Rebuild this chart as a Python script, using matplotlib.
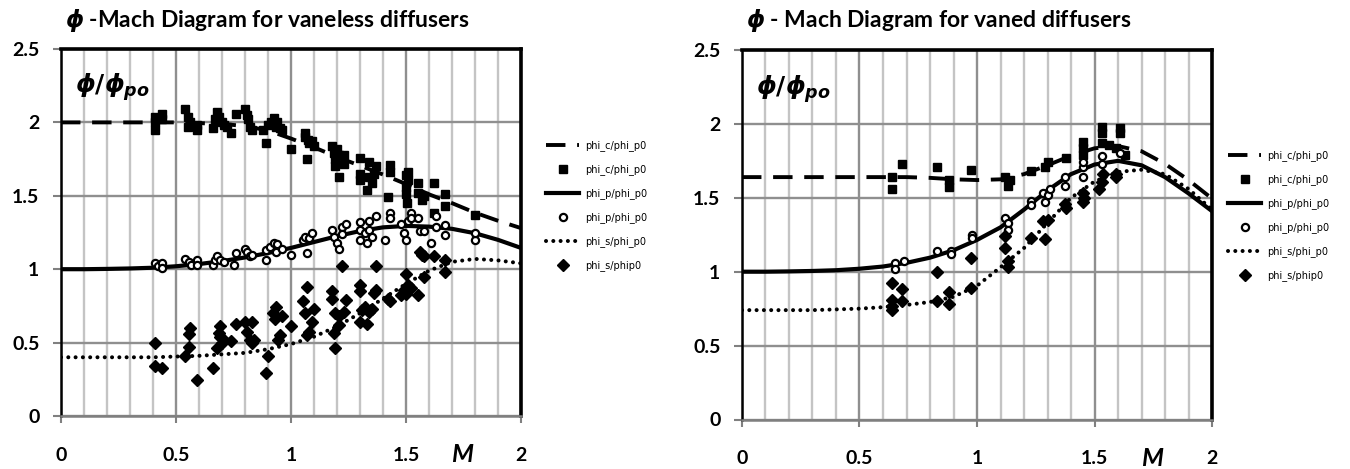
import matplotlib.pyplot as plt
import numpy as np

plt.rcParams['font.family'] = ['Lato', 'DejaVu Sans']
plt.rcParams['mathtext.fontset'] = 'custom'
plt.rcParams['mathtext.it'] = 'DejaVu Sans:italic:bold'
plt.rcParams['mathtext.rm'] = 'DejaVu Sans:bold'
plt.rcParams['mathtext.bf'] = 'DejaVu Sans:bold'

# model curves, sampled every 0.1 in Mach number
mach = [0.0, 0.1, 0.2, 0.3, 0.4, 0.5, 0.6, 0.7, 0.8, 0.9, 1.0,
        1.1, 1.2, 1.3, 1.4, 1.5, 1.6, 1.7, 1.8, 1.9, 2.0]

vl_phi_c = [2.0, 2.0, 2.0, 2.0, 2.0, 2.0, 1.995, 1.99, 1.975, 1.945, 1.89,
            1.83, 1.765, 1.705, 1.645, 1.58, 1.51, 1.45, 1.385, 1.33, 1.28]
vl_phi_p = [1.0, 1.0, 1.002, 1.005, 1.01, 1.02, 1.035, 1.055, 1.08, 1.11, 1.145,
            1.185, 1.225, 1.26, 1.285, 1.295, 1.29, 1.275, 1.245, 1.2, 1.145]
vl_phi_s = [0.40, 0.40, 0.40, 0.40, 0.40, 0.405, 0.41, 0.42, 0.43, 0.455, 0.49,
            0.54, 0.61, 0.70, 0.80, 0.90, 0.99, 1.05, 1.07, 1.06, 1.04]

vd_phi_c = [1.64, 1.64, 1.64, 1.64, 1.64, 1.64, 1.64, 1.64, 1.635, 1.625, 1.62,
            1.625, 1.66, 1.72, 1.785, 1.835, 1.85, 1.815, 1.73, 1.62, 1.495]
vd_phi_p = [1.0, 1.0, 1.002, 1.005, 1.01, 1.02, 1.035, 1.06, 1.095, 1.145, 1.215,
            1.30, 1.42, 1.55, 1.66, 1.725, 1.75, 1.72, 1.64, 1.53, 1.41]
vd_phi_s = [0.74, 0.74, 0.74, 0.74, 0.745, 0.75, 0.76, 0.775, 0.795, 0.83, 0.905,
            1.03, 1.16, 1.33, 1.50, 1.61, 1.675, 1.69, 1.66, 1.56, 1.42]

# measured points, vaneless diffusers
vl_c_m = [0.41, 0.41, 0.41, 0.44, 0.44, 0.54, 0.55, 0.55, 0.56, 0.59, 0.59, 0.66, 0.67,
          0.68, 0.685, 0.70, 0.71, 0.72, 0.74, 0.76, 0.80, 0.81, 0.815, 0.82, 0.83, 0.88,
          0.89, 0.90, 0.915, 0.925, 0.935, 0.94, 0.95, 0.96, 1.00, 1.06, 1.06, 1.07, 1.075,
          1.08, 1.09, 1.10, 1.18, 1.185, 1.19, 1.19, 1.20, 1.21, 1.21, 1.23, 1.23, 1.30,
          1.30, 1.30, 1.33, 1.34, 1.34, 1.35, 1.36, 1.37, 1.42, 1.43, 1.43, 1.50, 1.50,
          1.51, 1.51, 1.50, 1.505, 1.55, 1.55, 1.57, 1.58, 1.62, 1.62, 1.67, 1.67, 1.80]
vl_c = [2.04, 2.00, 1.95, 2.06, 2.02, 2.09, 2.04, 1.97, 2.00, 1.98, 1.95, 1.96, 2.02,
        2.07, 2.04, 2.00, 1.98, 1.97, 1.93, 2.06, 2.09, 2.05, 2.02, 1.97, 1.95, 1.95,
        1.86, 1.98, 2.00, 2.03, 1.97, 2.00, 1.96, 1.95, 1.82, 1.93, 1.90, 1.75, 1.88,
        1.86, 1.87, 1.84, 1.84, 1.79, 1.75, 1.70, 1.82, 1.63, 1.78, 1.72, 1.78, 1.76,
        1.65, 1.61, 1.54, 1.73, 1.63, 1.59, 1.65, 1.70, 1.49, 1.71, 1.66, 1.64, 1.56,
        1.61, 1.66, 1.51, 1.45, 1.59, 1.52, 1.47, 1.50, 1.59, 1.38, 1.43, 1.51, 1.37]

vl_p_m = [0.41, 0.42, 0.44, 0.44, 0.54, 0.555, 0.565, 0.59, 0.59, 0.66, 0.67, 0.68, 0.69,
          0.71, 0.75, 0.76, 0.80, 0.81, 0.82, 0.83, 0.89, 0.89, 0.91, 0.925, 0.935, 0.94,
          0.96, 1.00, 1.05, 1.06, 1.07, 1.08, 1.09, 1.18, 1.185, 1.20, 1.21, 1.22, 1.22,
          1.24, 1.30, 1.30, 1.30, 1.32, 1.33, 1.34, 1.34, 1.35, 1.37, 1.41, 1.43, 1.43,
          1.48, 1.49, 1.50, 1.51, 1.52, 1.52, 1.55, 1.56, 1.58, 1.61, 1.63, 1.63, 1.67,
          1.67, 1.80, 1.80]
vl_p = [1.04, 1.02, 1.04, 1.01, 1.07, 1.05, 1.03, 1.06, 1.03, 1.03, 1.06, 1.09, 1.06,
        1.05, 1.03, 1.11, 1.14, 1.12, 1.09, 1.10, 1.13, 1.06, 1.15, 1.18, 1.12, 1.17,
        1.14, 1.10, 1.20, 1.22, 1.11, 1.21, 1.25, 1.27, 1.22, 1.18, 1.14, 1.29, 1.24,
        1.31, 1.32, 1.27, 1.20, 1.25, 1.18, 1.33, 1.27, 1.22, 1.36, 1.20, 1.38, 1.35,
        1.31, 1.25, 1.20, 1.33, 1.38, 1.35, 1.35, 1.26, 1.26, 1.18, 1.36, 1.29, 1.23,
        1.30, 1.20, 1.25]

vl_s_m = [0.41, 0.41, 0.44, 0.54, 0.555, 0.555, 0.56, 0.59, 0.66, 0.68, 0.685, 0.69,
          0.69, 0.70, 0.71, 0.74, 0.76, 0.80, 0.81, 0.82, 0.83, 0.83, 0.84, 0.89, 0.90,
          0.92, 0.93, 0.935, 0.945, 0.95, 0.96, 1.00, 1.05, 1.06, 1.07, 1.07, 1.08, 1.09,
          1.10, 1.18, 1.18, 1.185, 1.19, 1.19, 1.21, 1.21, 1.22, 1.23, 1.24, 1.30, 1.30,
          1.30, 1.31, 1.32, 1.33, 1.34, 1.35, 1.36, 1.37, 1.37, 1.42, 1.43, 1.48, 1.49,
          1.50, 1.50, 1.51, 1.52, 1.55, 1.56, 1.57, 1.58, 1.58, 1.62, 1.67, 1.67]
vl_s = [0.495, 0.34, 0.33, 0.41, 0.47, 0.56, 0.60, 0.245, 0.325, 0.46, 0.565, 0.61,
        0.54, 0.495, 0.52, 0.51, 0.63, 0.64, 0.575, 0.52, 0.495, 0.64, 0.52, 0.29, 0.41,
        0.70, 0.66, 0.745, 0.52, 0.55, 0.68, 0.61, 0.78, 0.70, 0.88, 0.55, 0.575, 0.64,
        0.73, 0.85, 0.80, 0.565, 0.46, 0.70, 0.68, 0.62, 1.02, 0.71, 0.79, 0.89, 0.85,
        0.64, 0.72, 0.745, 0.63, 0.71, 0.73, 0.84, 1.02, 0.86, 0.80, 0.78, 0.825, 0.86,
        0.97, 0.83, 0.89, 0.87, 0.825, 1.12, 1.10, 0.95, 1.09, 1.09, 1.06, 0.98]

# measured points, vaned diffusers
vd_c_m = [0.64, 0.64, 0.68, 0.83, 0.88, 0.88, 0.975, 1.12, 1.13, 1.14, 1.23, 1.29, 1.30,
          1.38, 1.45, 1.45, 1.45, 1.53, 1.53, 1.53, 1.56, 1.59, 1.61, 1.61, 1.63]
vd_c = [1.64, 1.56, 1.73, 1.71, 1.57, 1.62, 1.69, 1.64, 1.58, 1.62, 1.68, 1.71, 1.74,
        1.77, 1.88, 1.84, 1.79, 1.98, 1.94, 1.87, 1.86, 1.84, 1.97, 1.94, 1.79]

vd_p_m = [0.65, 0.65, 0.69, 0.83, 0.89, 0.89, 0.98, 0.98, 1.12, 1.13, 1.13, 1.23, 1.23,
          1.28, 1.29, 1.30, 1.31, 1.375, 1.375, 1.45, 1.45, 1.45, 1.53, 1.53, 1.61]
vd_p = [1.06, 1.02, 1.07, 1.14, 1.14, 1.12, 1.25, 1.23, 1.36, 1.33, 1.28, 1.48, 1.45,
        1.53, 1.47, 1.52, 1.56, 1.64, 1.58, 1.71, 1.74, 1.64, 1.78, 1.73, 1.80]

vd_s_m = [0.64, 0.64, 0.64, 0.64, 0.68, 0.68, 0.83, 0.83, 0.88, 0.88, 0.975, 0.975, 1.12,
          1.12, 1.13, 1.13, 1.23, 1.28, 1.29, 1.30, 1.375, 1.38, 1.45, 1.45, 1.455, 1.52,
          1.53, 1.535, 1.59, 1.59]
vd_s = [0.925, 0.81, 0.77, 0.74, 0.88, 0.80, 0.995, 0.80, 0.86, 0.78, 1.09, 0.89, 1.24,
        1.16, 1.07, 1.03, 1.23, 1.34, 1.22, 1.35, 1.46, 1.43, 1.53, 1.47, 1.50, 1.56,
        1.61, 1.66, 1.64, 1.66]

W, H = 1350, 469
fig = plt.figure(figsize=(W / 100, H / 100), dpi=100)


def draw_panel(rect, title, c_line, p_line, s_line, pts, leg_xy):
    ax = fig.add_axes([rect[0] / W, 1 - rect[3] / H,
                       (rect[2] - rect[0]) / W, (rect[3] - rect[1]) / H])
    c_m, c_v, p_m, p_v, s_m, s_v = pts

    l1, = ax.plot(mach, c_line, color='black', lw=2.8, ls=(0, (5, 3)),
                  label='phi_c/phi_p0')
    m1, = ax.plot(c_m, c_v, ls='none', marker='s', ms=5.6, color='black',
                  label='phi_c/phi_p0')
    l2, = ax.plot(mach, p_line, color='black', lw=3.0, label='phi_p/phi_p0')
    m2, = ax.plot(p_m, p_v, ls='none', marker='o', ms=5.2, mfc='white',
                  mec='black', mew=1.6, label='phi_p/phi_p0')
    l3, = ax.plot(mach, s_line, color='black', lw=2.9, ls=(0, (0.01, 1.8)),
                  dash_capstyle='round', label='phi_s/phi_p0')
    m3, = ax.plot(s_m, s_v, ls='none', marker='D', ms=6.2, color='black',
                  label='phi_s/phip0')

    ax.set_xlim(0, 2)
    ax.set_ylim(0, 2.5)
    ax.set_xticks([0, 0.5, 1, 1.5, 2])
    ax.set_xticklabels(['0', '0.5', '1', '1.5', '2'])
    ax.set_xticks(np.arange(0, 2.01, 0.1), minor=True)
    ax.set_yticks([0, 0.5, 1, 1.5, 2, 2.5])
    ax.set_yticklabels(['0', '0.5', '1', '1.5', '2', '2.5'])
    ax.grid(which='minor', axis='x', color='#c4c4c4', lw=1.7)
    ax.grid(which='major', axis='x', color='#8f8f8f', lw=1.7)
    ax.grid(which='major', axis='y', color='#8f8f8f', lw=1.7)
    ax.set_axisbelow(True)
    ax.tick_params(which='minor', length=0)
    ax.tick_params(axis='x', which='major', length=5, width=1.5, color='#808080',
                   pad=17, labelsize=14)
    ax.tick_params(axis='y', which='major', length=5.5, width=1.5, color='#808080',
                   pad=10, labelsize=14)
    for lab in ax.get_xticklabels() + ax.get_yticklabels():
        lab.set_fontweight('bold')
    for side in ('top', 'right'):
        ax.spines[side].set_linewidth(2.6)
        ax.spines[side].set_color('black')
    ax.spines['left'].set_linewidth(1.8)
    ax.spines['left'].set_color('black')
    ax.spines['bottom'].set_linewidth(1.8)
    ax.spines['bottom'].set_color('#7f7f7f')

    ax.text(0.03, 0.895, r'$\phi/\phi_{po}$', transform=ax.transAxes,
            fontsize=18, ha='left', va='center')
    ax.text(1.745, -0.105, 'M', transform=ax.get_xaxis_transform(),
            fontsize=18, fontweight='bold', fontstyle='italic',
            ha='center', va='center')
    fig.text(rect[0] / W + 0.003, 1 - 20 / H, title, fontsize=16.5,
             fontweight='bold', ha='left', va='center')

    ax.legend([l1, m1, l2, m2, l3, m3],
              ['phi_c/phi_p0', 'phi_c/phi_p0', 'phi_p/phi_p0', 'phi_p/phi_p0',
               'phi_s/phi_p0', 'phi_s/phip0'],
              loc='upper left', bbox_to_anchor=(leg_xy[0] / W, 1 - leg_xy[1] / H),
              bbox_transform=fig.transFigure, frameon=False, borderpad=0,
              borderaxespad=0, handlelength=3.4, handletextpad=0.6,
              labelspacing=1.35, numpoints=1, prop={'size': 7, 'family': 'DejaVu Sans'})
    return ax


draw_panel((61, 49, 521, 416), r'$\phi$ -Mach Diagram for vaneless diffusers',
           vl_phi_c, vl_phi_p, vl_phi_s,
           (vl_c_m, vl_c, vl_p_m, vl_p, vl_s_m, vl_s), (546, 140))
draw_panel((742, 50, 1212, 419.5), r'$\phi$ - Mach Diagram for vaned diffusers',
           vd_phi_c, vd_phi_p, vd_phi_s,
           (vd_c_m, vd_c, vd_p_m, vd_p, vd_s_m, vd_s), (1228, 150))

fig.savefig('out.png', dpi=100)
